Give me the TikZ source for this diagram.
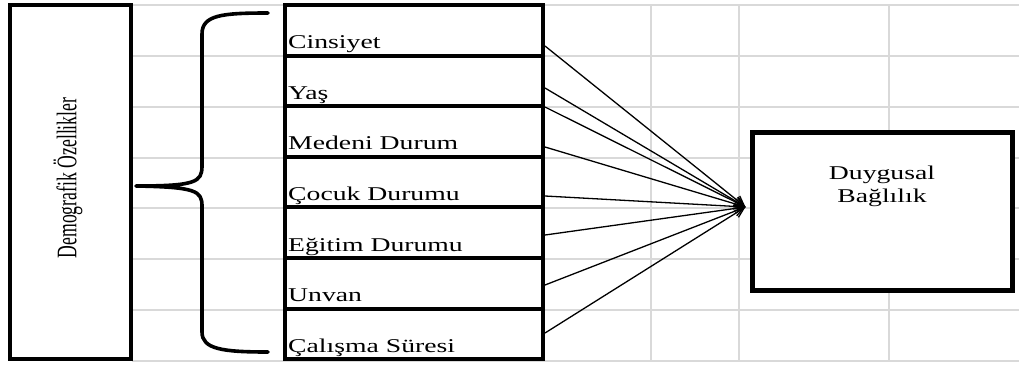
\documentclass[tikz,border=0pt]{standalone}
\usepackage{fontspec}
\setmainfont{Liberation Serif}[FakeStretch=1.42]
\newfontfamily\rotserif{Liberation Serif}
\usetikzlibrary{arrows.meta}
\definecolor{gridgray}{HTML}{D9D9D9}
\begin{document}
\begin{tikzpicture}[x=1pt,y=-1pt,
  gridline/.style={draw=gridgray,line width=1.6pt},
  itembox/.style={draw=black,line width=4pt,minimum width=258pt,minimum height=50.6pt,inner sep=0pt},
  itemtext/.style={font=\fontsize{19.5}{23}\selectfont,inner sep=0pt,anchor=base west},
  bigbox/.style={draw=black,line width=4pt,inner sep=0pt},
  bracestyle/.style={draw=black,line width=3.6pt,line cap=round,line join=round},
  arr/.style={line width=1.3pt,-{Straight Barb[length=10pt,width=10pt,line width=1.3pt]}}
]
\useasboundingbox (0,0) rectangle (1019,365);
\fill[white] (0,0) rectangle (1019,365);

% background grid
\foreach \gy in {5,56,107,158,208,259,310,361}
  \draw[gridline] (132,\gy) -- (1019,\gy);
\foreach \gx in {651,739,889}
  \draw[gridline] (\gx,5) -- (\gx,361);

% left box
\node[bigbox,fill=white,minimum width=121pt,minimum height=354pt] (demo) at (70.5,182) {};
\node[rotate=90,inner sep=0pt] (demotext) at (68,178)
  {\rotserif\fontsize{17.7}{20}\selectfont\scalebox{1}[1.6]{Demografik Özellikler}};

% brace
\draw[bracestyle] (268,13) .. controls (222,13) and (202,15) .. (202,34)
  -- (202,166) .. controls (202,182) and (196,186) .. (136,186)
  .. controls (196,187) and (202,191) .. (202,206)
  -- (202,332) .. controls (202,349) and (222,352) .. (268,352);

% items
\foreach \i/\lbl in {1/Cinsiyet,2/Yaş,3/Medeni Durum,4/Çocuk Durumu,5/Eğitim Durumu,6/Unvan,7/Çalışma Süresi}{
  \node[itembox,fill=white] (r\i) at (414,{5+50.6*(\i-0.5)}) {};
  \node[itemtext] (t\i) at ([xshift=5pt,yshift=9pt]r\i.south west) {\lbl};
}

% target box
\node[bigbox,fill=white,line width=5pt,minimum width=260pt,minimum height=158pt] (db) at (882,211) {};
\node[font=\fontsize{19.5}{23}\selectfont,inner sep=0pt,anchor=base] (db1) at (882,179) {Duygusal};
\node[font=\fontsize{19.5}{23}\selectfont,inner sep=0pt,anchor=base] (db2) at (882,202) {Bağlılık};

% connectors
\coordinate (tip) at ([xshift=-4pt,yshift=4pt]db.west);
\coordinate (s1) at (545,46);
\coordinate (s2) at (545,88);
\coordinate (s3) at (545,107);
\coordinate (s4) at (545,147);
\coordinate (s5) at (545,196);
\coordinate (s6) at (545,235);
\coordinate (s7) at (545,285);
\coordinate (s8) at (545,333);
\foreach \k in {1,...,8}
  \draw[arr] (s\k) -- (tip);
\end{tikzpicture}
\end{document}
